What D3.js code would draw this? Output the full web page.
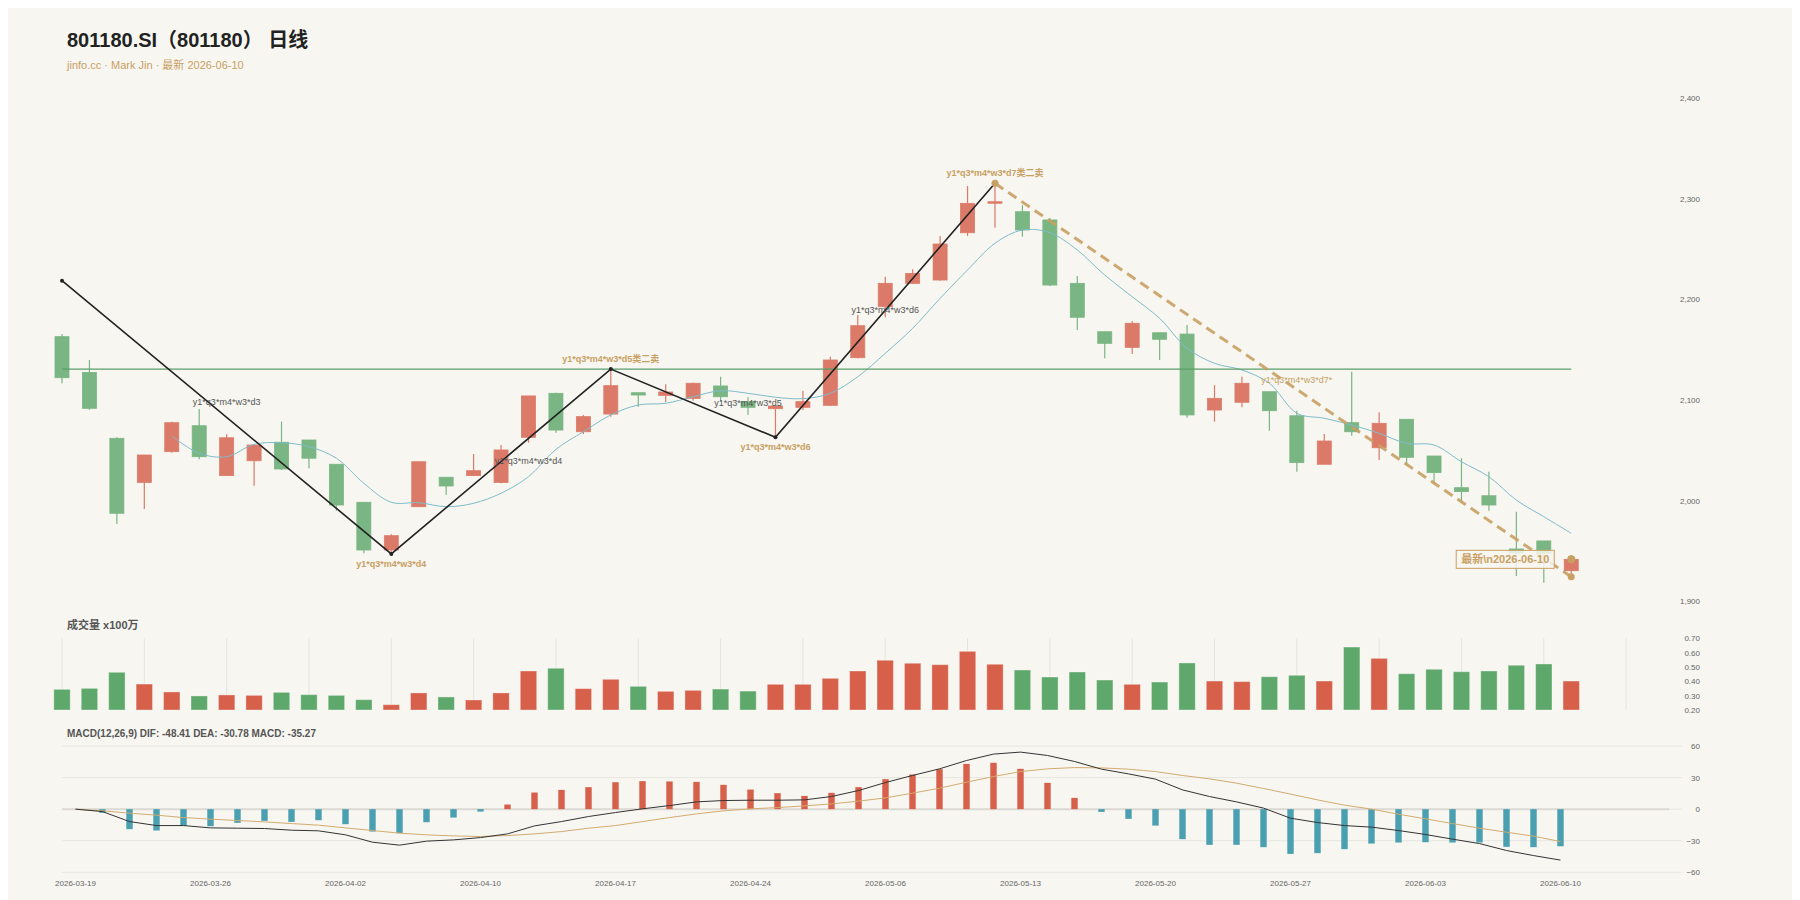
<!DOCTYPE html>
<html>
<head>
<meta charset="utf-8">
<script src="https://cdn.jsdelivr.net/npm/d3@7"></script>
<style>
body { margin: 0; background: #fff; }
svg text { font-family: "Liberation Sans", Arial, "Noto Sans CJK SC", sans-serif; }
</style>
</head>
<body>
<svg id="chart"></svg>
<script>
// ---- data ----
var dates = ["2026-03-19","2026-03-20","2026-03-23","2026-03-24","2026-03-25","2026-03-26","2026-03-27","2026-03-30","2026-03-31","2026-04-01",
  "2026-04-02","2026-04-03","2026-04-07","2026-04-08","2026-04-09","2026-04-10","2026-04-13","2026-04-14","2026-04-15","2026-04-16",
  "2026-04-17","2026-04-20","2026-04-21","2026-04-22","2026-04-23","2026-04-24","2026-04-27","2026-04-28","2026-04-29","2026-04-30",
  "2026-05-06","2026-05-07","2026-05-08","2026-05-11","2026-05-12","2026-05-13","2026-05-14","2026-05-15","2026-05-18","2026-05-19",
  "2026-05-20","2026-05-21","2026-05-22","2026-05-25","2026-05-26","2026-05-27","2026-05-28","2026-05-29","2026-06-01","2026-06-02",
  "2026-06-03","2026-06-04","2026-06-05","2026-06-08","2026-06-09","2026-06-10"];

var open = [2162.9,2127.4,2061.9,2018.1,2048.6,2074.4,2024.8,2039.6,2058.0,2060.2,2036.1,1998.3,1950.9,1993.9,2023.2,2024.8,2018.1,2062.9,2106.6,2068.4,
  2086.0,2107.2,2104.6,2101.6,2113.9,2098.3,2091.3,2092.7,2094.7,2142.0,2192.7,2215.9,2219.2,2266.2,2296.1,2287.1,2278.9,2215.9,2167.8,2152.3,
  2166.8,2165.5,2090.0,2097.7,2108.2,2084.3,2036.1,2077.4,2052.5,2080.8,2044.3,2012.8,2004.8,1951.9,1959.9,1930.3];
var close = [2122.1,2091.7,1987.4,2045.3,2077.4,2043.6,2062.4,2055.2,2031.4,2042.1,1995.6,1950.9,1965.1,2038.6,2014.5,2029.7,2050.3,2104.0,2070.1,2083.4,
  2114.2,2104.9,2107.9,2116.6,2103.2,2092.7,2094.0,2098.3,2139.7,2173.8,2215.9,2225.8,2255.0,2295.4,2297.0,2268.9,2214.2,2182.2,2156.3,2176.2,
  2160.3,2085.1,2101.6,2116.6,2089.3,2037.7,2059.2,2068.4,2076.8,2043.0,2027.8,2008.9,1995.6,1947.9,1947.6,1941.6];
var high = [2165.5,2139.7,2062.9,2045.3,2078.4,2091.0,2065.9,2055.2,2078.4,2060.2,2036.1,1998.3,1966.5,2038.6,2023.2,2046.3,2055.2,2104.0,2107.2,2085.1,
  2130.7,2107.2,2115.6,2117.2,2123.1,2102.7,2094.0,2109.2,2143.0,2184.4,2222.5,2229.8,2263.0,2312.6,2315.3,2293.7,2280.8,2223.2,2167.8,2178.5,
  2166.8,2174.5,2114.8,2123.1,2108.2,2089.3,2066.2,2128.1,2087.7,2080.8,2044.3,2042.1,2028.7,1988.9,1959.9,1945.9];
var low = [2116.6,2090.2,1976.7,1991.7,2047.6,2041.0,2024.8,2014.8,2030.4,2032.1,1990.0,1947.6,1947.0,1993.9,2005.6,2024.8,2017.2,2057.5,2067.5,2066.2,
  2083.4,2093.3,2098.0,2099.3,2098.3,2085.1,2062.9,2090.0,2094.0,2141.4,2182.2,2215.3,2218.5,2263.0,2271.2,2262.2,2213.3,2169.5,2141.4,2145.7,
  2139.7,2082.4,2078.4,2092.7,2069.5,2028.7,2036.1,2064.5,2040.3,2035.3,2016.2,1997.9,1990.0,1925.1,1918.4,1924.3];
var ma5 = [null,null,null,null,2064.2,2047.0,2043.6,2055.9,2057.5,2053.6,2042.1,2017.2,1998.3,1997.9,1993.9,1997.3,2007.3,2023.7,2050.9,2068.4,
  2085.1,2095.0,2096.7,2103.2,2109.2,2106.6,2102.7,2101.3,2106.6,2123.1,2146.3,2171.2,2201.0,2229.2,2255.7,2268.9,2266.2,2249.0,2224.1,2202.6,
  2181.1,2151.4,2136.4,2129.8,2116.6,2086.8,2081.8,2075.1,2066.8,2056.9,2055.2,2038.6,2023.7,2000.5,1984.0,1967.5];
var volume = [0.344,0.351,0.463,0.381,0.326,0.298,0.305,0.302,0.323,0.307,0.302,0.272,0.237,0.319,0.291,0.270,0.319,0.472,0.491,0.349,
  0.414,0.365,0.330,0.337,0.346,0.332,0.379,0.379,0.421,0.472,0.547,0.526,0.516,0.609,0.519,0.479,0.430,0.465,0.409,0.379,
  0.395,0.528,0.402,0.398,0.432,0.442,0.402,0.639,0.560,0.453,0.484,0.467,0.472,0.512,0.521,0.402];
var dif = [0,-2.3,-11.8,-15.6,-15.6,-17.8,-18.1,-18.4,-20.0,-20.6,-24.4,-31.4,-34.2,-30.4,-29.2,-27.0,-23.5,-15.9,-11.8,-7.0,
  -3.2,0.3,3.4,6.9,8.2,8.5,8.5,8.8,12.0,17.7,25.3,32.0,38.3,46.2,52.3,54.2,51.0,45.3,38.0,33.5,
  28.5,18.3,12.0,6.9,1.0,-8.6,-12.7,-15.6,-17.1,-20.3,-24.1,-28.5,-32.7,-39.3,-44.1,-48.41];
var dea = [0,-1.6,-3.8,-5.7,-8.0,-9.5,-10.8,-12.1,-13.7,-15.2,-17.8,-20.3,-22.8,-24.4,-25.4,-26.0,-25.1,-23.5,-21.3,-18.1,
  -15.6,-11.8,-8.0,-4.5,-1.6,0.3,1.5,3.1,5.0,7.6,10.7,15.2,19.9,25.6,31.0,35.7,38.3,39.5,39.2,38.0,
  35.7,32.0,28.8,24.7,19.6,14.3,8.8,3.8,0.0,-4.8,-9.2,-13.7,-18.1,-21.9,-25.7,-30.78];
var macd = [0,-3.5,-19.0,-20.3,-15.6,-16.2,-13.0,-11.1,-12.1,-10.5,-14.3,-21.3,-22.8,-12.4,-8.0,-2.3,4.4,15.8,18.3,20.9,
  25.6,26.6,26.3,25.9,23.1,18.6,15.2,12.6,15.5,20.9,28.5,32.9,38.0,43.0,44.0,38.3,25.0,10.7,-2.6,-9.2,
  -15.6,-28.5,-33.9,-33.9,-36.1,-42.5,-41.8,-38.0,-32.7,-31.7,-31.4,-31.7,-31.7,-35.8,-36.1,-35.27];

// zigzag pivots, trend line, level line
var pivotIdx = [0, 12, 20, 26, 34];
var pivotPx = [2218.5, 1947.0, 2130.7, 2062.9, 2315.3];
var trendIdx = [34, 55];
var trendPx = [2315.3, 1924.3];
var levelPx = 2130.7;

// annotations
var pivotLabels = ["y1*q3*m4*w3*d4", "y1*q3*m4*w3*d5类二卖", "y1*q3*m4*w3*d6", "y1*q3*m4*w3*d7类二卖"];
var pivotLabelIdx = [12, 20, 26, 34];
var pivotLabelPx = [1947.0, 2130.7, 2062.9, 2315.3];
var pivotLabelBelow = [true, false, true, false];
var noteLabels = ["y1*q3*m4*w3*d3", "y1*q3*m4*w3*d4", "y1*q3*m4*w3*d5", "y1*q3*m4*w3*d6"];
var noteIdx = [6, 17, 25, 30];
var notePx = [2098.0, 2039.4, 2097.0, 2189.4];
var draftLabel = "y1*q3*m4*w3*d7*";
var draftIdx = 45, draftPx = 2119.9;

var priceTicks = [1900, 2000, 2100, 2200, 2300, 2400];
var volTicks = [0.2, 0.3, 0.4, 0.5, 0.6, 0.7];
var macdTicks = [-60, -30, 0, 30, 60];

var title = "801180.SI（801180） 日线";
var subtitle = "jinfo.cc · Mark Jin · 最新 2026-06-10";

// ---- layout ----
var svgWidth = 1800, svgHeight = 900;
var UP = "#d6604a", DOWN = "#5fa86b", TAN = "#c9a063";

var svg = d3.select("#chart")
    .attr("width", svgWidth)
    .attr("height", svgHeight);

svg.append("rect")
    .attr("x", 8).attr("y", 8)
    .attr("width", 1784).attr("height", 900)
    .attr("fill", "#f7f6f1");

svg.append("text").attr("x", 67).attr("y", 47)
    .attr("font-size", 20).attr("font-weight", "bold").attr("fill", "#222")
    .text(title);
svg.append("text").attr("x", 67).attr("y", 69)
    .attr("font-size", 11).attr("fill", TAN)
    .text(subtitle);

var n = dates.length;
var slots = d3.range(n + 4); // 4 empty slots on the right

var xMain = d3.scalePoint().domain(slots).range([62, 1681]);
var xMacd = d3.scaleBand().domain(slots).range([62, 1682]);
function xm(i) { return xMacd(i) + xMacd.bandwidth() / 2; }

var yPrice = d3.scaleLinear().domain([1900, 2400]).range([601.2, 98.1]);
var yVol = d3.scaleLinear().domain([0.2, 0.7]).range([710, 638.3]);
var yMacd = d3.scaleLinear().domain([-60, 60]).range([872.3, 746]);

function rightAxis(scale, ticks, fmt) {
    var g = svg.append("g")
        .attr("transform", "translate(1702,0)")
        .call(d3.axisLeft(scale).tickValues(ticks).tickFormat(fmt).tickSize(0).tickPadding(2));
    g.select(".domain").remove();
    g.selectAll("text").attr("font-size", 8).attr("fill", "#666");
}

// ---- price panel ----
rightAxis(yPrice, priceTicks, d3.format(","));

var idx = d3.range(n);
var candles = svg.append("g").attr("opacity", 0.82);
candles.selectAll("line").data(idx).enter().append("line")
    .attr("x1", function(i) { return xMain(i); })
    .attr("x2", function(i) { return xMain(i); })
    .attr("y1", function(i) { return yPrice(high[i]); })
    .attr("y2", function(i) { return yPrice(low[i]); })
    .attr("stroke", function(i) { return close[i] >= open[i] ? UP : DOWN; })
    .attr("stroke-width", 1.2);
candles.selectAll("rect").data(idx).enter().append("rect")
    .attr("x", function(i) { return xMain(i) - 7; })
    .attr("width", 14)
    .attr("y", function(i) { return yPrice(Math.max(open[i], close[i])); })
    .attr("height", function(i) { return Math.max(1.5, Math.abs(yPrice(open[i]) - yPrice(close[i]))); })
    .attr("fill", function(i) { return close[i] >= open[i] ? UP : DOWN; })
    .attr("stroke", function(i) { return close[i] >= open[i] ? UP : DOWN; })
    .attr("stroke-width", 0.8);

var maLine = d3.line()
    .defined(function(i) { return ma5[i] != null; })
    .x(function(i) { return xMain(i); })
    .y(function(i) { return yPrice(ma5[i]); })
    .curve(d3.curveCatmullRom);
svg.append("path").attr("d", maLine(idx))
    .attr("fill", "none").attr("stroke", "#7fbccb").attr("stroke-width", 1);

svg.append("line")
    .attr("x1", xMain(0)).attr("x2", xMain(n - 1))
    .attr("y1", yPrice(levelPx)).attr("y2", yPrice(levelPx))
    .attr("stroke", "#5a9e68").attr("stroke-width", 1.3);

var zig = d3.line()
    .x(function(d, k) { return xMain(pivotIdx[k]); })
    .y(function(d, k) { return yPrice(pivotPx[k]); });
svg.append("path").attr("d", zig(pivotIdx))
    .attr("fill", "none").attr("stroke", "#222").attr("stroke-width", 1.6);
svg.selectAll(".pv").data(pivotIdx).enter().append("circle")
    .attr("cx", function(d, k) { return xMain(pivotIdx[k]); })
    .attr("cy", function(d, k) { return yPrice(pivotPx[k]); })
    .attr("r", 2).attr("fill", "#222");

svg.append("line")
    .attr("x1", xMain(trendIdx[0])).attr("y1", yPrice(trendPx[0]))
    .attr("x2", xMain(trendIdx[1])).attr("y2", yPrice(trendPx[1]))
    .attr("stroke", TAN).attr("stroke-width", 3).attr("stroke-dasharray", "10,6").attr("opacity", 0.9);

// labels
svg.selectAll(".note").data(noteLabels).enter().append("text")
    .attr("x", function(d, k) { return xMain(noteIdx[k]); })
    .attr("y", function(d, k) { return yPrice(notePx[k]); })
    .attr("dy", "0.35em").attr("text-anchor", "middle")
    .attr("font-size", 9).attr("fill", "#555")
    .text(function(d) { return d; });

svg.selectAll(".plab").data(pivotLabels).enter().append("text")
    .attr("x", function(d, k) { return xMain(pivotLabelIdx[k]); })
    .attr("y", function(d, k) { return yPrice(pivotLabelPx[k]) + (pivotLabelBelow[k] ? 10 : -10); })
    .attr("dy", "0.35em").attr("text-anchor", "middle")
    .attr("font-size", 9).attr("font-weight", "bold").attr("fill", TAN)
    .text(function(d) { return d; });

svg.append("text")
    .attr("x", xMain(draftIdx)).attr("y", yPrice(draftPx))
    .attr("dy", "0.35em").attr("text-anchor", "middle")
    .attr("font-size", 9).attr("fill", TAN)
    .text(draftLabel);

svg.append("circle").attr("cx", xMain(trendIdx[0])).attr("cy", yPrice(trendPx[0])).attr("r", 3.5).attr("fill", TAN);
svg.append("circle").attr("cx", xMain(trendIdx[1])).attr("cy", yPrice(trendPx[1])).attr("r", 3.5).attr("fill", TAN);
svg.append("circle").attr("cx", xMain(n - 1)).attr("cy", yPrice(close[n - 1])).attr("r", 4).attr("fill", TAN);

// latest box
var boxG = svg.append("g");
var boxRect = boxG.append("rect");
var boxText = boxG.append("text")
    .attr("x", xMain(n - 1) - 66).attr("y", yPrice(close[n - 1]))
    .attr("dy", "0.35em").attr("text-anchor", "middle")
    .attr("font-size", 11).attr("font-weight", "bold").attr("fill", TAN)
    .text("最新\\n" + dates[n - 1]);
var bb = boxText.node().getBBox();
boxRect.attr("x", bb.x - 5).attr("y", yPrice(close[n - 1]) - 9)
    .attr("width", bb.width + 10).attr("height", 18)
    .attr("fill", "#f7f6f1").attr("fill-opacity", 0.85)
    .attr("stroke", TAN).attr("stroke-width", 1);

// ---- volume panel ----
svg.append("text").attr("x", 67).attr("y", 629)
    .attr("font-size", 11).attr("font-weight", "bold").attr("fill", "#555")
    .text("成交量 x100万");
rightAxis(yVol, volTicks, d3.format(".2f"));

svg.selectAll(".vgrid").data(slots.filter(function(i) { return i % 3 === 0 && i < n + 2; }))
    .enter().append("line")
    .attr("x1", function(i) { return xMain(i); })
    .attr("x2", function(i) { return xMain(i); })
    .attr("y1", yVol(0.7)).attr("y2", yVol(0.2))
    .attr("stroke", "#e6e4de").attr("stroke-width", 1);

svg.selectAll(".vol").data(idx).enter().append("rect")
    .attr("x", function(i) { return xMain(i) - 8.2; })
    .attr("width", 16.4)
    .attr("y", function(i) { return yVol(volume[i]); })
    .attr("height", function(i) { return yVol(0.2) - yVol(volume[i]); })
    .attr("fill", function(i) { return close[i] >= open[i] ? UP : DOWN; })
    .attr("stroke", "#fff").attr("stroke-opacity", 0.35).attr("stroke-width", 1);

// ---- MACD panel ----
svg.append("text").attr("x", 67).attr("y", 737)
    .attr("font-size", 10).attr("font-weight", "bold").attr("fill", "#555")
    .text("MACD(12,26,9) DIF: " + dif[n - 1].toFixed(2) + " DEA: " + dea[n - 1].toFixed(2) + " MACD: " + macd[n - 1].toFixed(2));

svg.selectAll(".mgrid").data(macdTicks).enter().append("line")
    .attr("x1", 62).attr("x2", 1682)
    .attr("y1", function(d) { return yMacd(d); })
    .attr("y2", function(d) { return yMacd(d); })
    .attr("stroke", "#e8e6e0").attr("stroke-width", 1);
svg.append("line")
    .attr("x1", 62).attr("x2", 1669)
    .attr("y1", yMacd(0)).attr("y2", yMacd(0))
    .attr("stroke", "#dcdad4").attr("stroke-width", 2);
rightAxis(yMacd, macdTicks, d3.format("d"));

svg.selectAll(".hist").data(idx).enter().append("rect")
    .attr("x", function(i) { return xm(i) - 3.2; })
    .attr("width", 6.4)
    .attr("y", function(i) { return yMacd(Math.max(0, macd[i])); })
    .attr("height", function(i) { return Math.abs(yMacd(macd[i]) - yMacd(0)); })
    .attr("fill", function(i) { return macd[i] >= 0 ? UP : "#4a9fb0"; });

var difLine = d3.line().x(function(i) { return xm(i); }).y(function(i) { return yMacd(dif[i]); });
var deaLine = d3.line().x(function(i) { return xm(i); }).y(function(i) { return yMacd(dea[i]); });
svg.append("path").attr("d", deaLine(idx)).attr("fill", "none").attr("stroke", "#d4ab70").attr("stroke-width", 1);
svg.append("path").attr("d", difLine(idx)).attr("fill", "none").attr("stroke", "#333").attr("stroke-width", 1);

// date axis
var xAxis = svg.append("g")
    .attr("transform", "translate(0,880)")
    .call(d3.axisBottom(xMacd)
        .tickValues(idx.filter(function(i) { return i % 5 === 0; }))
        .tickFormat(function(i) { return dates[i]; })
        .tickSize(0).tickPadding(0));
xAxis.select(".domain").remove();
xAxis.selectAll("text").attr("font-size", 8).attr("fill", "#666");
</script>
</body>
</html>
